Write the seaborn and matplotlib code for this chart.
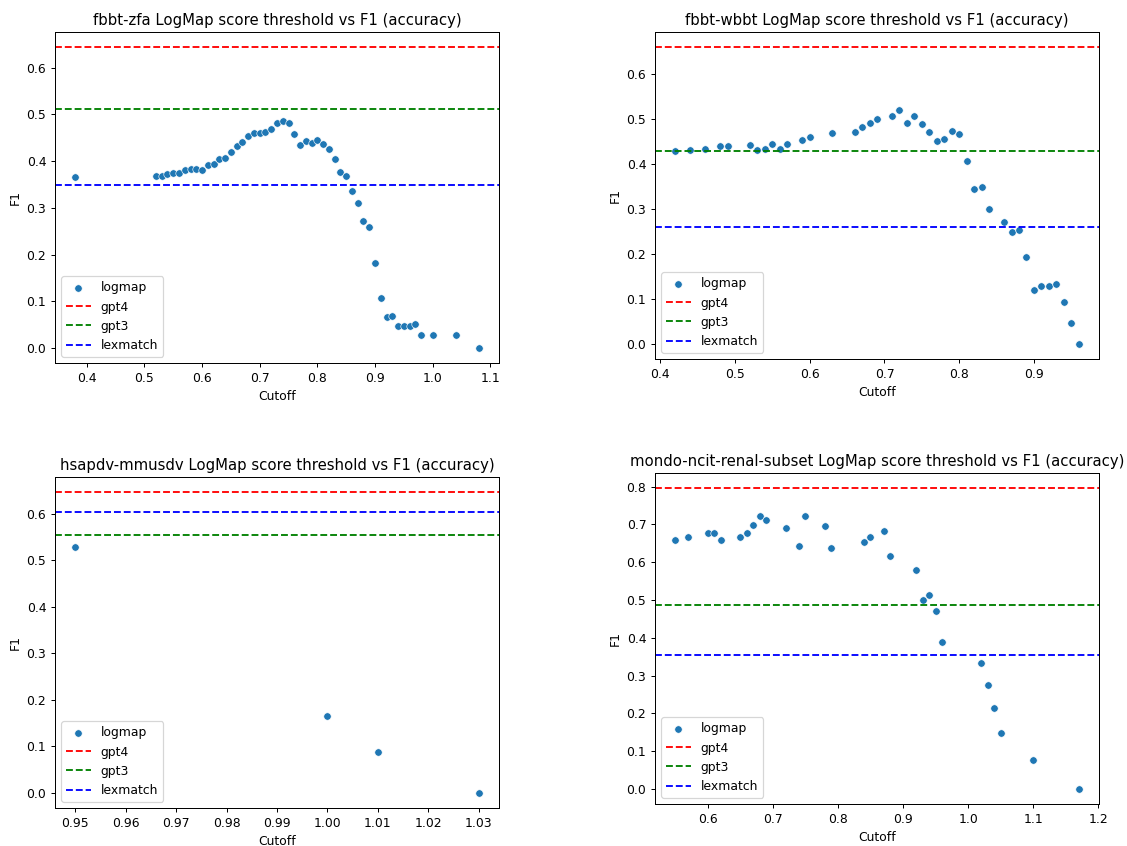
import numpy as np
import pandas as pd
import seaborn as sns
import matplotlib
matplotlib.use("Agg")
import matplotlib.pyplot as plt

# fbbt-zfa
zfa_cutoff = [0.38, 0.52, 0.53, 0.54, 0.55, 0.56, 0.57, 0.58, 0.59, 0.60, 0.61, 0.62,
              0.63, 0.64, 0.65, 0.66, 0.67, 0.68, 0.69, 0.70, 0.71, 0.72, 0.73, 0.74,
              0.75, 0.76, 0.77, 0.78, 0.79, 0.80, 0.81, 0.82, 0.83, 0.84, 0.85, 0.86,
              0.87, 0.88, 0.89, 0.90, 0.91, 0.92, 0.93, 0.94, 0.95, 0.96, 0.97, 0.98,
              1.00, 1.04, 1.08]
zfa_f1 = [0.366, 0.367, 0.369, 0.373, 0.375, 0.375, 0.381, 0.384, 0.382, 0.381, 0.391, 0.394,
          0.404, 0.406, 0.419, 0.432, 0.441, 0.454, 0.459, 0.459, 0.462, 0.469, 0.481, 0.486,
          0.481, 0.458, 0.434, 0.442, 0.439, 0.444, 0.436, 0.425, 0.404, 0.377, 0.369, 0.336,
          0.311, 0.271, 0.259, 0.181, 0.107, 0.067, 0.069, 0.046, 0.048, 0.048, 0.051, 0.027,
          0.027, 0.027, 0.0]

# fbbt-wbbt
wbbt_cutoff = [0.42, 0.44, 0.46, 0.48, 0.49, 0.52, 0.53, 0.54, 0.55, 0.56, 0.57, 0.59,
               0.60, 0.63, 0.66, 0.67, 0.68, 0.69, 0.71, 0.72, 0.73, 0.74, 0.75, 0.76,
               0.77, 0.78, 0.79, 0.80, 0.81, 0.82, 0.83, 0.84, 0.86, 0.87, 0.88, 0.89,
               0.90, 0.91, 0.92, 0.93, 0.94, 0.95, 0.96]
wbbt_f1 = [0.429, 0.431, 0.434, 0.439, 0.440, 0.442, 0.431, 0.434, 0.445, 0.433, 0.445, 0.453,
           0.460, 0.468, 0.472, 0.482, 0.492, 0.500, 0.506, 0.520, 0.490, 0.506, 0.488, 0.470,
           0.451, 0.456, 0.474, 0.467, 0.406, 0.344, 0.348, 0.299, 0.271, 0.250, 0.254, 0.193,
           0.120, 0.128, 0.130, 0.134, 0.093, 0.047, 0.0]

# hsapdv-mmusdv
hsapdv_cutoff = [0.95, 1.00, 1.01, 1.03]
hsapdv_f1 = [0.529, 0.166, 0.087, 0.0]

# mondo-ncit-renal-subset
mondo_cutoff = [0.55, 0.57, 0.60, 0.61, 0.62, 0.65, 0.66, 0.67, 0.68, 0.69, 0.72, 0.74,
                0.75, 0.78, 0.79, 0.84, 0.85, 0.87, 0.88, 0.92, 0.93, 0.94, 0.95, 0.96,
                1.02, 1.03, 1.04, 1.05, 1.10, 1.17]
mondo_f1 = [0.658, 0.667, 0.676, 0.676, 0.658, 0.667, 0.676, 0.698, 0.722, 0.712, 0.691, 0.644,
            0.722, 0.695, 0.638, 0.653, 0.667, 0.683, 0.615, 0.579, 0.500, 0.513, 0.471, 0.388,
            0.334, 0.275, 0.213, 0.147, 0.076, 0.0]

# baselines per dataset: gpt4, gpt3, lexmatch
datasets = ["fbbt-zfa", "fbbt-wbbt", "hsapdv-mmusdv", "mondo-ncit-renal-subset"]
gpt4 = [0.644, 0.660, 0.647, 0.796]
gpt3 = [0.511, 0.428, 0.555, 0.486]
lexmatch = [0.349, 0.260, 0.605, 0.354]

cutoffs = [zfa_cutoff, wbbt_cutoff, hsapdv_cutoff, mondo_cutoff]
f1s = [zfa_f1, wbbt_f1, hsapdv_f1, mondo_f1]

W, H = 1127, 846
DPI = 89  # reference looks like a downscaled 100 dpi render
# axes boxes in pixels: left, top, right, bottom
boxes = [(55, 32, 499, 363), (655, 32, 1099, 359),
         (55, 477, 499, 808), (655, 473, 1099, 804)]

fig = plt.figure(figsize=(W / DPI, H / DPI), dpi=DPI)

for i, name in enumerate(datasets):
    l, t, r, b = boxes[i]
    ax = fig.add_axes([l / W, 1 - b / H, (r - l) / W, (b - t) / H])
    df = pd.DataFrame({"Cutoff": cutoffs[i], "F1": f1s[i]})
    sns.scatterplot(data=df, x="Cutoff", y="F1", ax=ax, label="logmap")
    ax.axhline(gpt4[i], color="r", linestyle="--", label="gpt4")
    ax.axhline(gpt3[i], color="g", linestyle="--", label="gpt3")
    ax.axhline(lexmatch[i], color="b", linestyle="--", label="lexmatch")
    ax.set_title(f"{name} LogMap score threshold vs F1 (accuracy)")
    ax.legend(loc="lower left")

plt.savefig("out.png", dpi=DPI)
